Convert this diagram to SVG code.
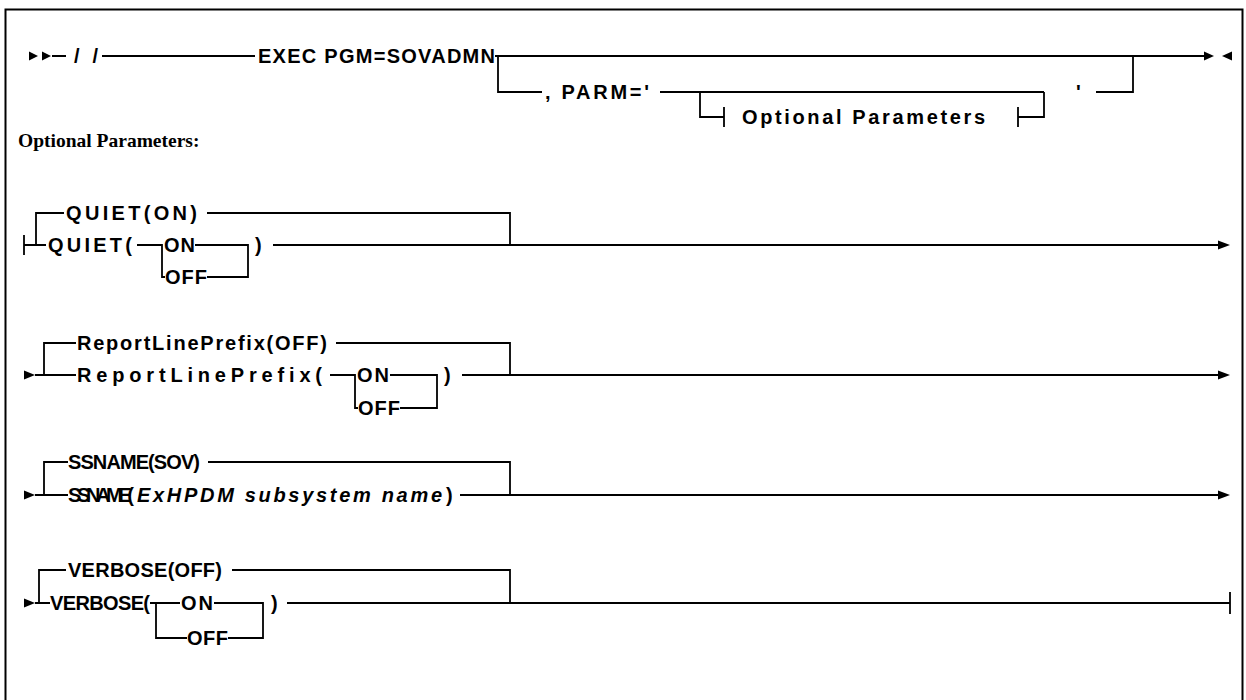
<svg xmlns="http://www.w3.org/2000/svg" width="1246" height="700" viewBox="0 0 1246 700">
<style>
.t{font-family:"Liberation Sans",Arial,sans-serif;font-weight:bold;font-size:20px;fill:#000}
.i{font-style:italic}
.h{font-family:"Liberation Serif","Times New Roman",serif;font-weight:bold;font-size:19.5px;fill:#000}
.l{fill:none;stroke:#000;stroke-width:1.8}
.a{fill:#000}
</style>
<rect x="5.5" y="9.5" width="1237" height="720" fill="#fff" stroke="#000" stroke-width="2"/>
<g id="connectors">
  <!-- row 1 -->
  <path class="l" d="M52,56 H66 M102,56 H255 M495,56 H1205 M498,56 V92 H542 M660,92 H1044 M700,92 V117 H724 M724,107 V127 M1018,107 V127 M1018,117 H1044 V92 M1096,92 H1133 V56"/>
  <polygon class="a" points="29,51.5 38,56 29,60.5"/>
  <polygon class="a" points="42,51.5 51,56 42,60.5"/>
  <polygon class="a" points="1204,51.5 1214,56 1204,60.5"/>
  <polygon class="a" points="1232,51.5 1222,56 1232,60.5"/>
  <!-- QUIET -->
  <path class="l" d="M24,235 V255 M24,245 H46 M36,245 V213 H64 M207,213 H510 V245 M137,245 H162 V277 H165 M195,245 H248 V277 H207 M273,245 H1220"/>
  <polygon class="a" points="1218,240.5 1230,245 1218,249.5"/>
  <!-- ReportLinePrefix -->
  <path class="l" d="M35,375 H76 M44,375 V343 H76 M336,343 H510 V375 M330,375 H355 V408 H358 M390,375 H437 V408 H400 M462,375 H1220"/>
  <polygon class="a" points="24,370.5 35,375 24,379.5"/>
  <polygon class="a" points="1218,370.5 1230,375 1218,379.5"/>
  <!-- SSNAME -->
  <path class="l" d="M35,495 H68 M44,495 V462 H68 M208,462 H510 V495 M460,495 H1220"/>
  <polygon class="a" points="24,490.5 35,495 24,499.5"/>
  <polygon class="a" points="1218,490.5 1230,495 1218,499.5"/>
  <!-- VERBOSE -->
  <path class="l" d="M35,603 H50 M39,603 V570 H66 M232,570 H510 V603 M150,603 H180 M156,603 V638 H187 M214,603 H263 V638 H228 M287,603 H1230 M1230,592 V614"/>
  <polygon class="a" points="24,598.5 35,603 24,607.5"/>
</g>
<g id="n-jcl">
  <text class="t" x="74" y="63" textLength="24">//</text>
  <text class="t" x="258" y="63" textLength="237">EXEC PGM=SOVADMN</text>
</g>
<g id="n-parm">
  <text class="t" x="545" y="99" textLength="104">, PARM='</text>
  <text class="t" x="1076" y="99">'</text>
</g>
<g id="n-optref">
  <text class="t" x="742" y="124" textLength="243">Optional Parameters</text>
</g>
<g id="n-header">
  <text class="h" x="18" y="147">Optional Parameters:</text>
</g>
<g id="n-quiet">
  <text class="t" x="66" y="220" textLength="131">QUIET(ON)</text>
  <text class="t" x="48" y="252" textLength="84">QUIET(</text>
  <text class="t" x="164" y="252" textLength="31">ON</text>
  <text class="t" x="165" y="284" textLength="42">OFF</text>
  <text class="t" x="255" y="252">)</text>
</g>
<g id="n-report">
  <text class="t" x="77" y="350" textLength="250">ReportLinePrefix(OFF)</text>
  <text class="t" x="77" y="382" textLength="245">ReportLinePrefix(</text>
  <text class="t" x="357" y="382" textLength="32">ON</text>
  <text class="t" x="358" y="415" textLength="42">OFF</text>
  <text class="t" x="444" y="382">)</text>
</g>
<g id="n-ssname">
  <text class="t" x="68" y="469" textLength="132">SSNAME(SOV)</text>
  <text class="t" x="68" y="502" textLength="66">SSNAME(</text>
  <text class="t i" x="137" y="502" textLength="305">ExHPDM subsystem name</text>
  <text class="t" x="446" y="502">)</text>
</g>
<g id="n-verbose">
  <text class="t" x="68" y="577" textLength="154">VERBOSE(OFF)</text>
  <text class="t" x="50" y="610" textLength="100">VERBOSE(</text>
  <text class="t" x="181" y="610" textLength="32">ON</text>
  <text class="t" x="187" y="645" textLength="41">OFF</text>
  <text class="t" x="271" y="610">)</text>
</g>
</svg>
